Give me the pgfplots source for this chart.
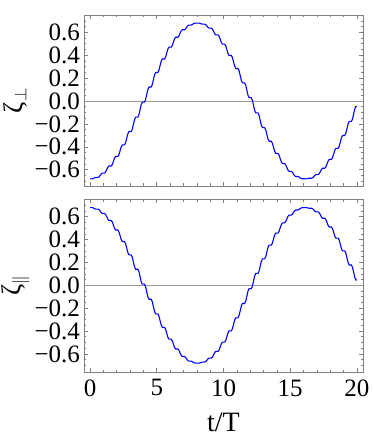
\documentclass[border=0pt]{standalone}
\usepackage{pgfplots}
\usepackage{pgfplotstable}
\usepackage{fontspec}
\setmainfont{Liberation Serif}
\pgfplotsset{compat=1.18}
\pgfplotstableread{
t perp par
0.0000 -0.680 0.680
0.0833 -0.680 0.680
0.1667 -0.680 0.680
0.2500 -0.677 0.677
0.3333 -0.671 0.671
0.4167 -0.667 0.667
0.5000 -0.667 0.667
0.5833 -0.667 0.667
0.6667 -0.663 0.663
0.7500 -0.651 0.651
0.8333 -0.637 0.637
0.9167 -0.629 0.629
1.0000 -0.629 0.629
1.0833 -0.629 0.629
1.1667 -0.620 0.620
1.2500 -0.601 0.601
1.3333 -0.579 0.579
1.4167 -0.567 0.567
1.5000 -0.567 0.567
1.5833 -0.567 0.567
1.6667 -0.555 0.555
1.7500 -0.528 0.528
1.8333 -0.500 0.500
1.9167 -0.484 0.484
2.0000 -0.484 0.484
2.0833 -0.484 0.484
2.1667 -0.468 0.468
2.2500 -0.436 0.436
2.3333 -0.401 0.401
2.4167 -0.383 0.383
2.5000 -0.383 0.383
2.5833 -0.383 0.383
2.6667 -0.364 0.364
2.7500 -0.326 0.326
2.8333 -0.287 0.287
2.9167 -0.267 0.267
3.0000 -0.267 0.267
3.0833 -0.267 0.267
3.1667 -0.246 0.246
3.2500 -0.205 0.205
3.3333 -0.163 0.163
3.4167 -0.141 0.141
3.5000 -0.141 0.141
3.5833 -0.141 0.141
3.6667 -0.119 0.119
3.7500 -0.076 0.076
3.8333 -0.032 0.032
3.9167 -0.010 0.010
4.0000 -0.010 0.010
4.0833 -0.010 0.010
4.1667 0.013 -0.013
4.2500 0.057 -0.057
4.3333 0.100 -0.100
4.4167 0.122 -0.122
4.5000 0.122 -0.122
4.5833 0.122 -0.122
4.6667 0.144 -0.144
4.7500 0.187 -0.187
4.8333 0.228 -0.228
4.9167 0.249 -0.249
5.0000 0.249 -0.249
5.0833 0.249 -0.249
5.1667 0.270 -0.270
5.2500 0.310 -0.310
5.3333 0.348 -0.348
5.4167 0.367 -0.367
5.5000 0.367 -0.367
5.5833 0.367 -0.367
5.6667 0.385 -0.385
5.7500 0.421 -0.421
5.8333 0.454 -0.454
5.9167 0.471 -0.471
6.0000 0.471 -0.471
6.0833 0.471 -0.471
6.1667 0.486 -0.486
6.2500 0.516 -0.516
6.3333 0.544 -0.544
6.4167 0.557 -0.557
6.5000 0.557 -0.557
6.5833 0.557 -0.557
6.6667 0.569 -0.569
6.7500 0.592 -0.592
6.8333 0.612 -0.612
6.9167 0.622 -0.622
7.0000 0.622 -0.622
7.0833 0.622 -0.622
7.1667 0.630 -0.630
7.2500 0.646 -0.646
7.3333 0.658 -0.658
7.4167 0.663 -0.663
7.5000 0.663 -0.663
7.5833 0.663 -0.663
7.6667 0.668 -0.668
7.7500 0.675 -0.675
7.8333 0.679 -0.679
7.9167 0.680 -0.680
8.0000 0.680 -0.680
8.0833 0.680 -0.680
8.1667 0.680 -0.680
8.2500 0.678 -0.678
8.3333 0.674 -0.674
8.4167 0.671 -0.671
8.5000 0.671 -0.671
8.5833 0.671 -0.671
8.6667 0.667 -0.667
8.7500 0.656 -0.656
8.8333 0.644 -0.644
8.9167 0.636 -0.636
9.0000 0.636 -0.636
9.0833 0.636 -0.636
9.1667 0.628 -0.628
9.2500 0.610 -0.610
9.3333 0.589 -0.589
9.4167 0.578 -0.578
9.5000 0.578 -0.578
9.5833 0.578 -0.578
9.6667 0.566 -0.566
9.7500 0.540 -0.540
9.8333 0.512 -0.512
9.9167 0.497 -0.497
10.0000 0.497 -0.497
10.0833 0.497 -0.497
10.1667 0.482 -0.482
10.2500 0.450 -0.450
10.3333 0.416 -0.416
10.4167 0.398 -0.398
10.5000 0.398 -0.398
10.5833 0.398 -0.398
10.6667 0.380 -0.380
10.7500 0.343 -0.343
10.8333 0.304 -0.304
10.9167 0.284 -0.284
11.0000 0.284 -0.284
11.0833 0.284 -0.284
11.1667 0.264 -0.264
11.2500 0.223 -0.223
11.3333 0.181 -0.181
11.4167 0.159 -0.159
11.5000 0.159 -0.159
11.5833 0.159 -0.159
11.6667 0.138 -0.138
11.7500 0.094 -0.094
11.8333 0.051 -0.051
11.9167 0.029 -0.029
12.0000 0.029 -0.029
12.0833 0.029 -0.029
12.1667 0.006 -0.006
12.2500 -0.038 0.038
12.3333 -0.082 0.082
12.4167 -0.104 0.104
12.5000 -0.104 0.104
12.5833 -0.104 0.104
12.6667 -0.125 0.125
12.7500 -0.168 0.168
12.8333 -0.210 0.210
12.9167 -0.232 0.232
13.0000 -0.232 0.232
13.0833 -0.232 0.232
13.1667 -0.252 0.252
13.2500 -0.293 0.293
13.3333 -0.332 0.332
13.4167 -0.351 0.351
13.5000 -0.351 0.351
13.5833 -0.351 0.351
13.6667 -0.370 0.370
13.7500 -0.406 0.406
13.8333 -0.440 0.440
13.9167 -0.457 0.457
14.0000 -0.457 0.457
14.0833 -0.457 0.457
14.1667 -0.473 0.473
14.2500 -0.504 0.504
14.3333 -0.532 0.532
14.4167 -0.546 0.546
14.5000 -0.546 0.546
14.5833 -0.546 0.546
14.6667 -0.559 0.559
14.7500 -0.582 0.582
14.8333 -0.604 0.604
14.9167 -0.614 0.614
15.0000 -0.614 0.614
15.0833 -0.614 0.614
15.1667 -0.623 0.623
15.2500 -0.639 0.639
15.3333 -0.653 0.653
15.4167 -0.659 0.659
15.5000 -0.659 0.659
15.5833 -0.659 0.659
15.6667 -0.664 0.664
15.7500 -0.672 0.672
15.8333 -0.677 0.677
15.9167 -0.679 0.679
16.0000 -0.679 0.679
16.0833 -0.679 0.679
16.1667 -0.680 0.680
16.2500 -0.679 0.679
16.3333 -0.676 0.676
16.4167 -0.674 0.674
16.5000 -0.674 0.674
16.5833 -0.674 0.674
16.6667 -0.670 0.670
16.7500 -0.661 0.661
16.8333 -0.650 0.650
16.9167 -0.643 0.643
17.0000 -0.643 0.643
17.0833 -0.643 0.643
17.1667 -0.635 0.635
17.2500 -0.618 0.618
17.3333 -0.598 0.598
17.4167 -0.587 0.587
17.5000 -0.587 0.587
17.5833 -0.587 0.587
17.6667 -0.576 0.576
17.7500 -0.551 0.551
17.8333 -0.525 0.525
17.9167 -0.510 0.510
18.0000 -0.510 0.510
18.0833 -0.510 0.510
18.1667 -0.495 0.495
18.2500 -0.464 0.464
18.3333 -0.431 0.431
18.4167 -0.413 0.413
18.5000 -0.413 0.413
18.5833 -0.413 0.413
18.6667 -0.396 0.396
18.7500 -0.359 0.359
18.8333 -0.321 0.321
18.9167 -0.301 0.301
19.0000 -0.301 0.301
19.0833 -0.301 0.301
19.1667 -0.281 0.281
19.2500 -0.241 0.241
19.3333 -0.199 0.199
19.4167 -0.178 0.178
19.5000 -0.178 0.178
19.5833 -0.178 0.178
19.6667 -0.156 0.156
19.7500 -0.113 0.113
19.8333 -0.070 0.070
19.9167 -0.047 0.047
20.0000 -0.047 0.047
}\datatable
\pgfplotsset{
  panel/.style={
    scale only axis, width=279pt,
    xmin=-0.45, xmax=20.45,
    axis line style={black!50, line width=0.6pt},
    tick style={black!50, line width=0.6pt},
    major tick length=4pt, minor tick length=2.5pt,
    tick align=inside,
    xtick={0,5,10,15,20}, minor xtick={1,2,3,4,6,7,8,9,11,12,13,14,16,17,18,19},
    ytick={-0.6,-0.4,-0.2,0,0.2,0.4,0.6},
    yticklabels={−0.6,−0.4,−0.2,0.0,0.2,0.4,0.6},
    minor ytick={-0.7,-0.65,-0.55,-0.5,-0.45,-0.35,-0.3,-0.25,-0.15,-0.1,-0.05,0.05,0.1,0.15,0.25,0.3,0.35,0.45,0.5,0.55,0.65,0.7},
    tick label style={font=\fontsize{25}{26}\selectfont, black},
    yticklabel style={xshift=-0.5pt},
    /pgf/number format/assume math mode=true,
    ylabel style={font=\fontsize{27}{28}\selectfont, at={(axis description cs:-0.245,0.5)}, anchor=center},
    extra y ticks={0}, extra y tick labels={},
    extra y tick style={grid=major, major grid style={black!40, line width=0.6pt}, major tick length=0pt},
    clip=true,
  }
}
\begin{document}
\begin{tikzpicture}
\path[use as bounding box] (-84pt,-255pt) rectangle (289pt,186pt);
\begin{axis}[panel, at={(0pt,0pt)}, anchor=south west, height=171pt,
  ymin=-0.742, ymax=0.751, xticklabels={},
  ylabel={ζ$_{\perp}$}]
\addplot[blue, line width=1.1pt, no markers] table[x=t, y=perp]{\datatable};
\end{axis}
\begin{axis}[panel, at={(0pt,-13pt)}, anchor=north west, height=173pt,
  ymin=-0.758, ymax=0.755,
  xticklabels={0,5,10,15,20},
  xticklabel style={yshift=-4pt},
  xlabel={t/T},
  xlabel style={font=\fontsize{28}{29}\selectfont, at={(axis description cs:0.5,0)}, anchor=base, yshift=-59pt},
  ylabel={ζ$_{\parallel}$}]
\addplot[blue, line width=1.1pt, no markers] table[x=t, y=par]{\datatable};
\end{axis}
\end{tikzpicture}
\end{document}
